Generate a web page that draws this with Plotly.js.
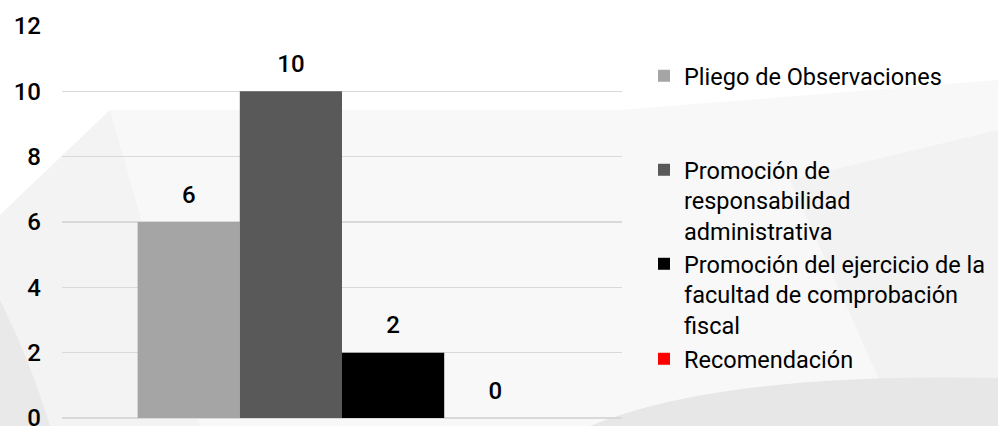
<!DOCTYPE html>
<html>
<head>
<meta charset="utf-8">
<script src="https://cdn.plot.ly/plotly-3.0.1.min.js"></script>
<style>html,body{margin:0;padding:0;background:#fff;}#chart{width:998px;height:426px;}</style>
</head>
<body>
<div id="chart"></div>
<script>
// ---- data ----
const categories = ["Acciones"];
const seriesNames = [
  "Pliego de Observaciones",
  "Promoción de<br>responsabilidad<br>administrativa",
  "Promoción del ejercicio de la<br>facultad de comprobación<br>fiscal",
  "Recomendación"
];
const seriesValues = [6, 10, 2, 0];
const seriesColors = ["#a5a5a5", "#595959", "#000000", "#ff0000"];
const yTicks = [0, 2, 4, 6, 8, 10, 12];

// ---- layout helpers ----
const W = 998, H = 426;
const M = {l: 62, r: 376, t: 26, b: 8, autoexpand: false};
const pw = W - M.l - M.r, ph = H - M.t - M.b;
const px = x => (x - M.l) / pw;
const py = y => (H - M.b - y) / ph;
const legendTops = [54, 148, 242, 337];
const legendLeft = 644;

const font = "Roboto, 'Noto Sans', sans-serif";
const traces = [];
const legendKeys = ["legend", "legend2", "legend3", "legend4"];
seriesNames.forEach((name, i) => {
  traces.push({
    type: "bar", x: categories, y: [seriesValues[i]], name: name,
    marker: {color: seriesColors[i], line: {width: 0}},
    offsetgroup: "g" + i, legend: legendKeys[i], hoverinfo: "skip"
  });
});
seriesNames.forEach((name, i) => {
  traces.push({
    type: "scatter", mode: "markers+text", x: categories, y: [seriesValues[i]],
    text: [String(seriesValues[i])], textposition: "top center",
    textfont: {family: font, size: 24, color: "#000", weight: 500},
    marker: {size: 20, opacity: 0}, offsetgroup: "g" + i,
    showlegend: false, hoverinfo: "skip", cliponaxis: false
  });
});

function P(p) { return px(p[0]).toFixed(4) + "," + py(p[1]).toFixed(4); }
function pathPoly(pts) { return "M" + pts.map(P).join("L") + "Z"; }
const bg = (fill, path) => ({type: "path", xref: "paper", yref: "paper", layer: "below",
  line: {width: 0}, fillcolor: fill, path: path});
const shapes = [
  bg("#f8f8f8", pathPoly([[0,215],[110,110],[620,110],[998,80],[998,426],[0,426]])),
  bg("#f3f3f3", pathPoly([[0,215],[110,110],[200,426],[0,426]])),
  bg("#e9e9e9", "M" + P([0,300]) + "Q" + P([30,360]) + " " + P([50,426]) + "L" + P([0,426]) + "Z"),
  bg("#f2f2f2", pathPoly([[790,180],[998,130],[998,426],[900,426]])),
  bg("#e7e7e7", "M" + P([590,426]) + "Q" + P([720,372]) + " " + P([998,378]) + "L" + P([998,426]) + "Z")
];

const layout = {
  width: W, height: H, margin: M,
  paper_bgcolor: "#ffffff", plot_bgcolor: "rgba(0,0,0,0)",
  barmode: "group", bargap: 0.27, bargroupgap: 0,
  scattermode: "group", scattergap: 0.27,
  showlegend: true,
  font: {family: font, color: "#000"},
  xaxis: {type: "category", showgrid: false, showticklabels: false, showline: false, zeroline: false, ticks: "", automargin: false},
  yaxis: {range: [0, 12], tickvals: yTicks, ticktext: yTicks.map(String), automargin: false,
          showgrid: true, gridcolor: "#d9d9d9", gridwidth: 1.5,
          zeroline: true, zerolinecolor: "#d9d9d9", zerolinewidth: 1.5, showline: false,
          tickfont: {family: font, size: 24, color: "#000", weight: 500}, ticklabelstandoff: 20,
          ticklabeloverflow: "allow"},
  shapes: shapes
};
legendKeys.forEach((k, i) => {
  layout[k] = {x: px(legendLeft), xanchor: "left", y: py(legendTops[i]), yanchor: "top",
    bgcolor: "rgba(0,0,0,0)", borderwidth: 0, valign: "top",
    font: {family: font, size: 23.5, color: "#000"}, itemclick: false, itemdoubleclick: false};
});

Plotly.newPlot("chart", traces, layout, {displayModeBar: false, staticPlot: true});
</script>
</body>
</html>
